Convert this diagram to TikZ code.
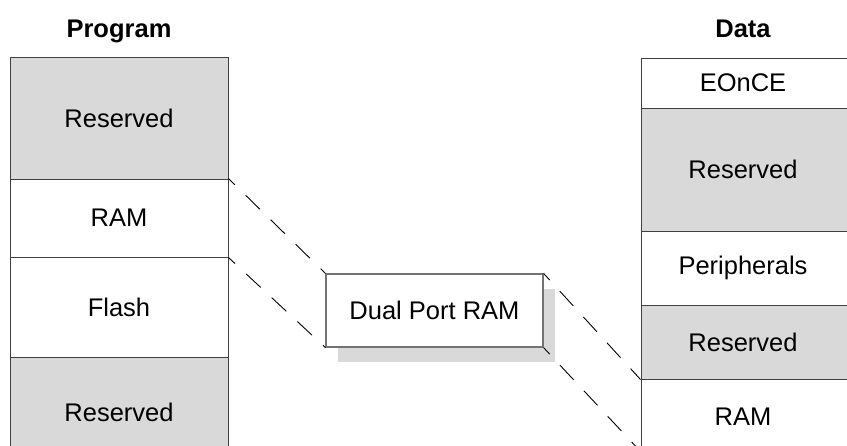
\documentclass[tikz,border=0pt]{standalone}
\usepackage{fontspec}
\setmainfont{Liberation Sans}
\begin{document}
\begin{tikzpicture}[x=1pt,y=-1pt,
  txt/.style={font=\fontsize{25.5}{30}\selectfont,inner sep=0pt},
  blk/.style={draw=black!75,line width=1pt,minimum width=218pt,inner sep=0pt,txt},
  rblk/.style={blk,minimum width=209pt},
  res/.style={fill=black!15},
  ttl/.style={font=\bfseries\fontsize{25.5}{30}\selectfont,inner sep=0pt},
  lnk/.style={draw=black,line width=0.9pt,dash pattern=on 20pt off 15pt,dash phase=11pt},
  dpr/.style={draw=black!55,line width=1.2pt,fill=white,minimum width=217pt,minimum height=73pt,inner sep=0pt,txt},
  shd/.style={fill=black!15,minimum width=217pt,minimum height=73pt,inner sep=0pt}]
\useasboundingbox (0,0) rectangle (847,445);
\fill[white] (0,0) rectangle (847,445);
% titles
\node[ttl,anchor=base] (tprog) at (119,37) {Program};
\node[ttl,anchor=base] (tdata) at (743,37) {Data};
% left column
\node[blk,res,minimum height=122pt] (lres1) at (119,118) {Reserved};
\node[blk,minimum height=78pt] (lram) at (119,218) {RAM};
\node[blk,minimum height=100pt] (lflash) at (119,307) {Flash};
\node[blk,res,minimum height=110pt] (lres2) at (119,412) {Reserved};
% right column
\node[rblk,minimum height=50pt] (reonce) at (745.5,83) {};
\node[txt] (teonce) at (743,83) {EOnCE};
\node[rblk,res,minimum height=123pt] (rres1) at (745.5,169.5) {};
\node[txt] (tres1) at (743,169.5) {Reserved};
\node[rblk,minimum height=74pt] (rper) at (745.5,268) {};
\node[txt] (tper) at (743,268) {Peripherals};
\node[rblk,res,minimum height=74pt] (rres2) at (745.5,342) {};
\node[txt] (tres2) at (743,342) {Reserved};
\node[rblk,minimum height=74pt] (rram) at (745.5,416) {};
\node[txt] (tram) at (743,417) {RAM};
% dual port RAM with shadow
\node[shd] (dshadow) at (446.5,325.5) {};
\node[dpr] (dp) at (434.5,310.5) {Dual Port RAM};
\coordinate (rend) at (641,452);
% links
\draw[lnk] (lram.north east) -- (dp.north west);
\draw[lnk] (lram.south east) -- (dp.south west);
\draw[lnk] (dp.north east) -- (rres2.south west);
\draw[lnk] (dp.south east) -- (rend);
\end{tikzpicture}
\end{document}
